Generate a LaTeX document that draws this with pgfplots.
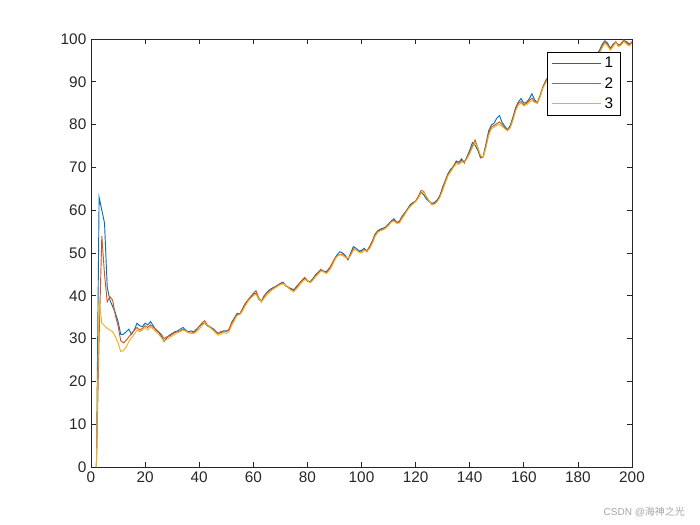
\documentclass[border=0pt]{standalone}
\usepackage{fontspec}
\setmainfont{Liberation Sans}
\newfontfamily\cjk{Noto Sans CJK SC}
\usepackage{pgfplots}
\pgfplotsset{compat=1.18}
\definecolor{c1}{rgb}{0,0.447,0.741}
\definecolor{c2}{rgb}{0.85,0.325,0.098}
\definecolor{c3}{rgb}{0.929,0.694,0.125}
\definecolor{axgray}{rgb}{0.15,0.15,0.15}
\begin{document}
\begin{tikzpicture}
\begin{axis}[
  at={(0,0)}, anchor=south west,
  scale only axis, width=405.75pt, height=321pt,
  xmin=0, xmax=200, ymin=0, ymax=100,
  xtick={0,20,...,200}, ytick={0,10,...,100},
  tick align=inside, tick pos=both,
  major tick length=4pt,
  axis line style={axgray, line width=0.5pt},
  tick style={axgray, line width=0.5pt},
  ticklabel style={font=\fontsize{11.5}{13}\selectfont, text=axgray},
  /pgf/number format/assume math mode=true,
  legend style={at={(0.978,0.970)}, anchor=north east,
    font=\fontsize{11.5}{13}\selectfont, row sep=1.5pt, inner xsep=3pt, inner ysep=2pt},
  legend cell align=left,
  clip=true,
]
\addlegendimage{legend image code/.code={\draw[draw=c1, line width=0.9pt] (0cm,0.05pt) -- (1.3cm,0.05pt);}}
\addlegendentry{1}
\addlegendimage{legend image code/.code={\draw[draw=c2, line width=0.9pt] (0cm,0.05pt) -- (1.3cm,0.05pt);}}
\addlegendentry{2}
\addlegendimage{legend image code/.code={\draw[draw=c3, line width=0.9pt] (0cm,0.05pt) -- (1.3cm,0.05pt);}}
\addlegendentry{3}
\addplot[color=c1, line width=0.7pt, forget plot] coordinates {
(2,0)(3,63)(4,60)(5,57)(6,42)(7,39)(8,37.5)(9,36)(10,34)(11,31)(12,31)(13,31.6)(14,32.2)(15,31)(16,32)(17,33.6)(18,33)(19,32.8)(20,33.6)(21,33.2)(22,34)(23,33)(24,32)(25,31.5)(26,30.6)(27,29.3)(28,30.2)(29,30.8)(30,31.2)
(31,31.6)(32,31.8)(33,32.2)(34,32.6)(35,32)(36,31.6)(37,31.8)(38,31.6)(39,32.2)(40,32.8)(41,33.4)(42,33.6)(43,33)(44,32.6)(45,32.4)(46,31.8)(47,31.2)(48,31.6)(49,31.8)(50,31.8)
(51,32)(52,33.8)(53,34.8)(54,35.9)(55,35.7)(56,37)(57,38.2)(58,39)(59,39.6)(60,40.4)(61,40.6)(62,39.2)(63,38.8)(64,40)(65,40.8)(66,41.4)(67,41.8)(68,42.1)(69,42.5)(70,42.9)
(71,43.2)(72,42.3)(73,41.9)(74,41.7)(75,41.4)(76,42.2)(77,42.9)(78,43.6)(79,44.1)(80,43.4)(81,43.3)(82,44)(83,44.9)(84,45.5)(85,46)(86,45.8)(87,45.6)(88,46.4)(89,47.2)(90,48.6)
(91,49.6)(92,50.3)(93,50)(94,49.4)(95,48.4)(96,50)(97,51.5)(98,51.1)(99,50.5)(100,50.6)(101,51.1)(102,50.3)(103,51.5)(104,52.8)(105,54.4)(106,55.2)(107,55.6)(108,55.8)(109,56.1)(110,56.8)
(111,57.5)(112,58)(113,57.2)(114,57.4)(115,58.6)(116,59.4)(117,60.3)(118,61.3)(119,61.8)(120,62)(121,63)(122,64.2)(123,63.6)(124,62.6)(125,62)(126,61.6)(127,61.8)(128,62.4)(129,63.5)(130,65.4)
(131,67)(132,68.6)(133,69.6)(134,70.2)(135,71.5)(136,71.2)(137,72)(138,71)(139,72.5)(140,74)(141,75.8)(142,75.2)(143,74)(144,72.2)(145,72.6)(146,75.5)(147,78.5)(148,79.9)(149,80.3)(150,81.5)
(151,82.1)(152,80.5)(153,79.6)(154,78.8)(155,79.8)(156,81.8)(157,84)(158,85.3)(159,86.1)(160,85)(161,85.2)(162,86)(163,87.2)(164,85.8)(165,85)(166,86.6)(167,88.5)(168,90.2)(169,91.2)(170,91.6)
(171,92.4)(172,91.8)(173,92.6)(174,93.4)(175,93)(176,93.8)(177,94.6)(178,94.2)(179,94.8)(180,95.6)(181,95.2)(182,95.8)(183,96.2)(184,95.6)(185,95.2)(186,95.8)(187,96.4)(188,97.4)(189,98.8)(190,99.6)
(191,99)(192,97.8)(193,98.8)(194,99.2)(195,98.6)(196,98.8)(197,99.6)(198,99.4)(199,98.8)(200,99.2)
};
\addplot[color=c2, line width=0.7pt, forget plot] coordinates {
(2,0)(3,30)(4,54)(5,45)(6,38.6)(7,39.8)(8,39)(9,35.5)(10,33)(11,29.5)(12,29)(13,29.6)(14,30.4)(15,31.2)(16,32)(17,32.6)(18,32)(19,32.4)(20,33)(21,32.6)(22,33.2)(23,32.6)(24,32.2)(25,31.6)(26,31)(27,30)(28,30.4)(29,30.6)(30,31)
(31,31.4)(32,31.6)(33,31.8)(34,32.2)(35,31.8)(36,31.4)(37,31.6)(38,31.4)(39,32)(40,32.8)(41,33.6)(42,34.2)(43,33.2)(44,32.8)(45,32.2)(46,31.6)(47,31.2)(48,31.4)(49,31.6)(50,31.6)
(51,32.2)(52,33.6)(53,34.6)(54,35.6)(55,35.8)(56,36.8)(57,38)(58,39)(59,39.8)(60,40.6)(61,41.2)(62,39.6)(63,38.6)(64,39.8)(65,40.6)(66,41.2)(67,41.6)(68,42)(69,42.4)(70,42.8)
(71,43)(72,42.4)(73,42)(74,41.5)(75,41.2)(76,42)(77,42.8)(78,43.6)(79,44.3)(80,43.6)(81,43.2)(82,43.8)(83,44.7)(84,45.4)(85,46.2)(86,45.6)(87,45.4)(88,46.2)(89,47.4)(90,48.6)
(91,49.4)(92,49.6)(93,49.8)(94,49.2)(95,48.6)(96,49.6)(97,51)(98,50.8)(99,50.4)(100,50.2)(101,50.8)(102,50.6)(103,51.4)(104,52.6)(105,54.2)(106,55)(107,55.4)(108,55.6)(109,56)(110,56.6)
(111,57.4)(112,57.6)(113,57)(114,57.2)(115,58.4)(116,59.2)(117,60.2)(118,61)(119,61.6)(120,62.2)(121,63.2)(122,64.6)(123,64.4)(124,63)(125,62.2)(126,61.4)(127,61.6)(128,62.2)(129,63.2)(130,65)
(131,66.8)(132,68.4)(133,69.2)(134,70.4)(135,71.2)(136,70.8)(137,71.6)(138,71.4)(139,72.2)(140,73.6)(141,75)(142,76.4)(143,74.6)(144,72.4)(145,72.4)(146,75)(147,78)(148,79.4)(149,79.8)(150,80.2)
(151,80.6)(152,80)(153,79.2)(154,78.6)(155,79.6)(156,81.4)(157,83.6)(158,85)(159,85.4)(160,84.6)(161,85)(162,85.6)(163,86.2)(164,85.4)(165,85.2)(166,86.8)(167,88.8)(168,90)(169,91)(170,91.4)
(171,92)(172,92.2)(173,92.4)(174,93)(175,93.2)(176,93.6)(177,94.2)(178,94.6)(179,94.6)(180,95.2)(181,95.4)(182,95.6)(183,96)(184,95.8)(185,95.4)(186,95.6)(187,96.2)(188,97)(189,98.4)(190,99.4)
(191,98.6)(192,97.6)(193,98.6)(194,99.4)(195,98.4)(196,99)(197,99.8)(198,99)(199,98.6)(200,99.4)
};
\addplot[color=c3, line width=0.7pt, forget plot] coordinates {
(2,0)(3,39)(4,33.6)(5,33)(6,32.4)(7,32)(8,31.6)(9,30.5)(10,29)(11,27)(12,27.2)(13,28)(14,29.3)(15,30.2)(16,31)(17,32)(18,31.6)(19,32)(20,32.6)(21,32)(22,32.8)(23,32.2)(24,31.6)(25,31)(26,30.2)(27,29.4)(28,29.8)(29,30.2)(30,30.6)
(31,31)(32,31.4)(33,31.6)(34,32)(35,31.8)(36,31.4)(37,31.2)(38,31.2)(39,31.6)(40,32.2)(41,33)(42,33.6)(43,33.2)(44,32.6)(45,32)(46,31.4)(47,30.8)(48,31)(49,31.4)(50,31.2)
(51,31.6)(52,33)(53,34.2)(54,35.4)(55,35.6)(56,36.4)(57,37.6)(58,38.6)(59,39.4)(60,40)(61,40.4)(62,39.4)(63,38.6)(64,39.4)(65,40.2)(66,40.8)(67,41.4)(68,41.8)(69,42.2)(70,42.6)
(71,42.8)(72,42.4)(73,41.8)(74,41.2)(75,41)(76,41.6)(77,42.4)(78,43.2)(79,43.8)(80,43.6)(81,43)(82,43.6)(83,44.4)(84,45)(85,45.8)(86,45.6)(87,45.2)(88,45.8)(89,46.8)(90,48.2)
(91,49.2)(92,49.6)(93,49.4)(94,49)(95,48.8)(96,49.4)(97,50.6)(98,50.8)(99,50.2)(100,50)(101,50.6)(102,50.4)(103,51)(104,52.2)(105,53.8)(106,54.8)(107,55.2)(108,55.4)(109,55.8)(110,56.4)
(111,57.2)(112,57.4)(113,57)(114,57)(115,58)(116,59)(117,60)(118,60.8)(119,61.4)(120,62)(121,62.8)(122,64)(123,64.2)(124,63.2)(125,62.2)(126,61.2)(127,61.4)(128,62)(129,63)(130,64.6)
(131,66.4)(132,68)(133,69)(134,70)(135,70.8)(136,70.8)(137,71.2)(138,71.2)(139,72)(140,73.2)(141,74.6)(142,75.8)(143,74.6)(144,72.8)(145,72.4)(146,74.6)(147,77.4)(148,79)(149,79.4)(150,79.8)
(151,80)(152,79.6)(153,79)(154,78.6)(155,79.2)(156,81)(157,83.2)(158,84.6)(159,85)(160,84.4)(161,84.6)(162,85.2)(163,85.6)(164,85.2)(165,85)(166,86.4)(167,88.4)(168,89.6)(169,90.6)(170,91.1)
(171,91.7)(172,91.9)(173,92.1)(174,92.7)(175,92.9)(176,93.3)(177,93.9)(178,94.3)(179,94.3)(180,94.9)(181,95.1)(182,95.3)(183,95.7)(184,95.5)(185,95.1)(186,95.3)(187,95.9)(188,96.7)(189,98)(190,99)
(191,98.4)(192,97.4)(193,98.2)(194,99.2)(195,98.2)(196,98.6)(197,99.4)(198,98.8)(199,98.4)(200,99)
};
\end{axis}
\node[anchor=east, text=gray!70, font=\fontsize{7.5}{9}\selectfont] at (449pt,-33.75pt) {CSDN @{\cjk 海神之光}};
\path[use as bounding box] (-68.25pt,-43.5pt) rectangle (456.75pt,350.25pt);
\end{tikzpicture}
\end{document}
